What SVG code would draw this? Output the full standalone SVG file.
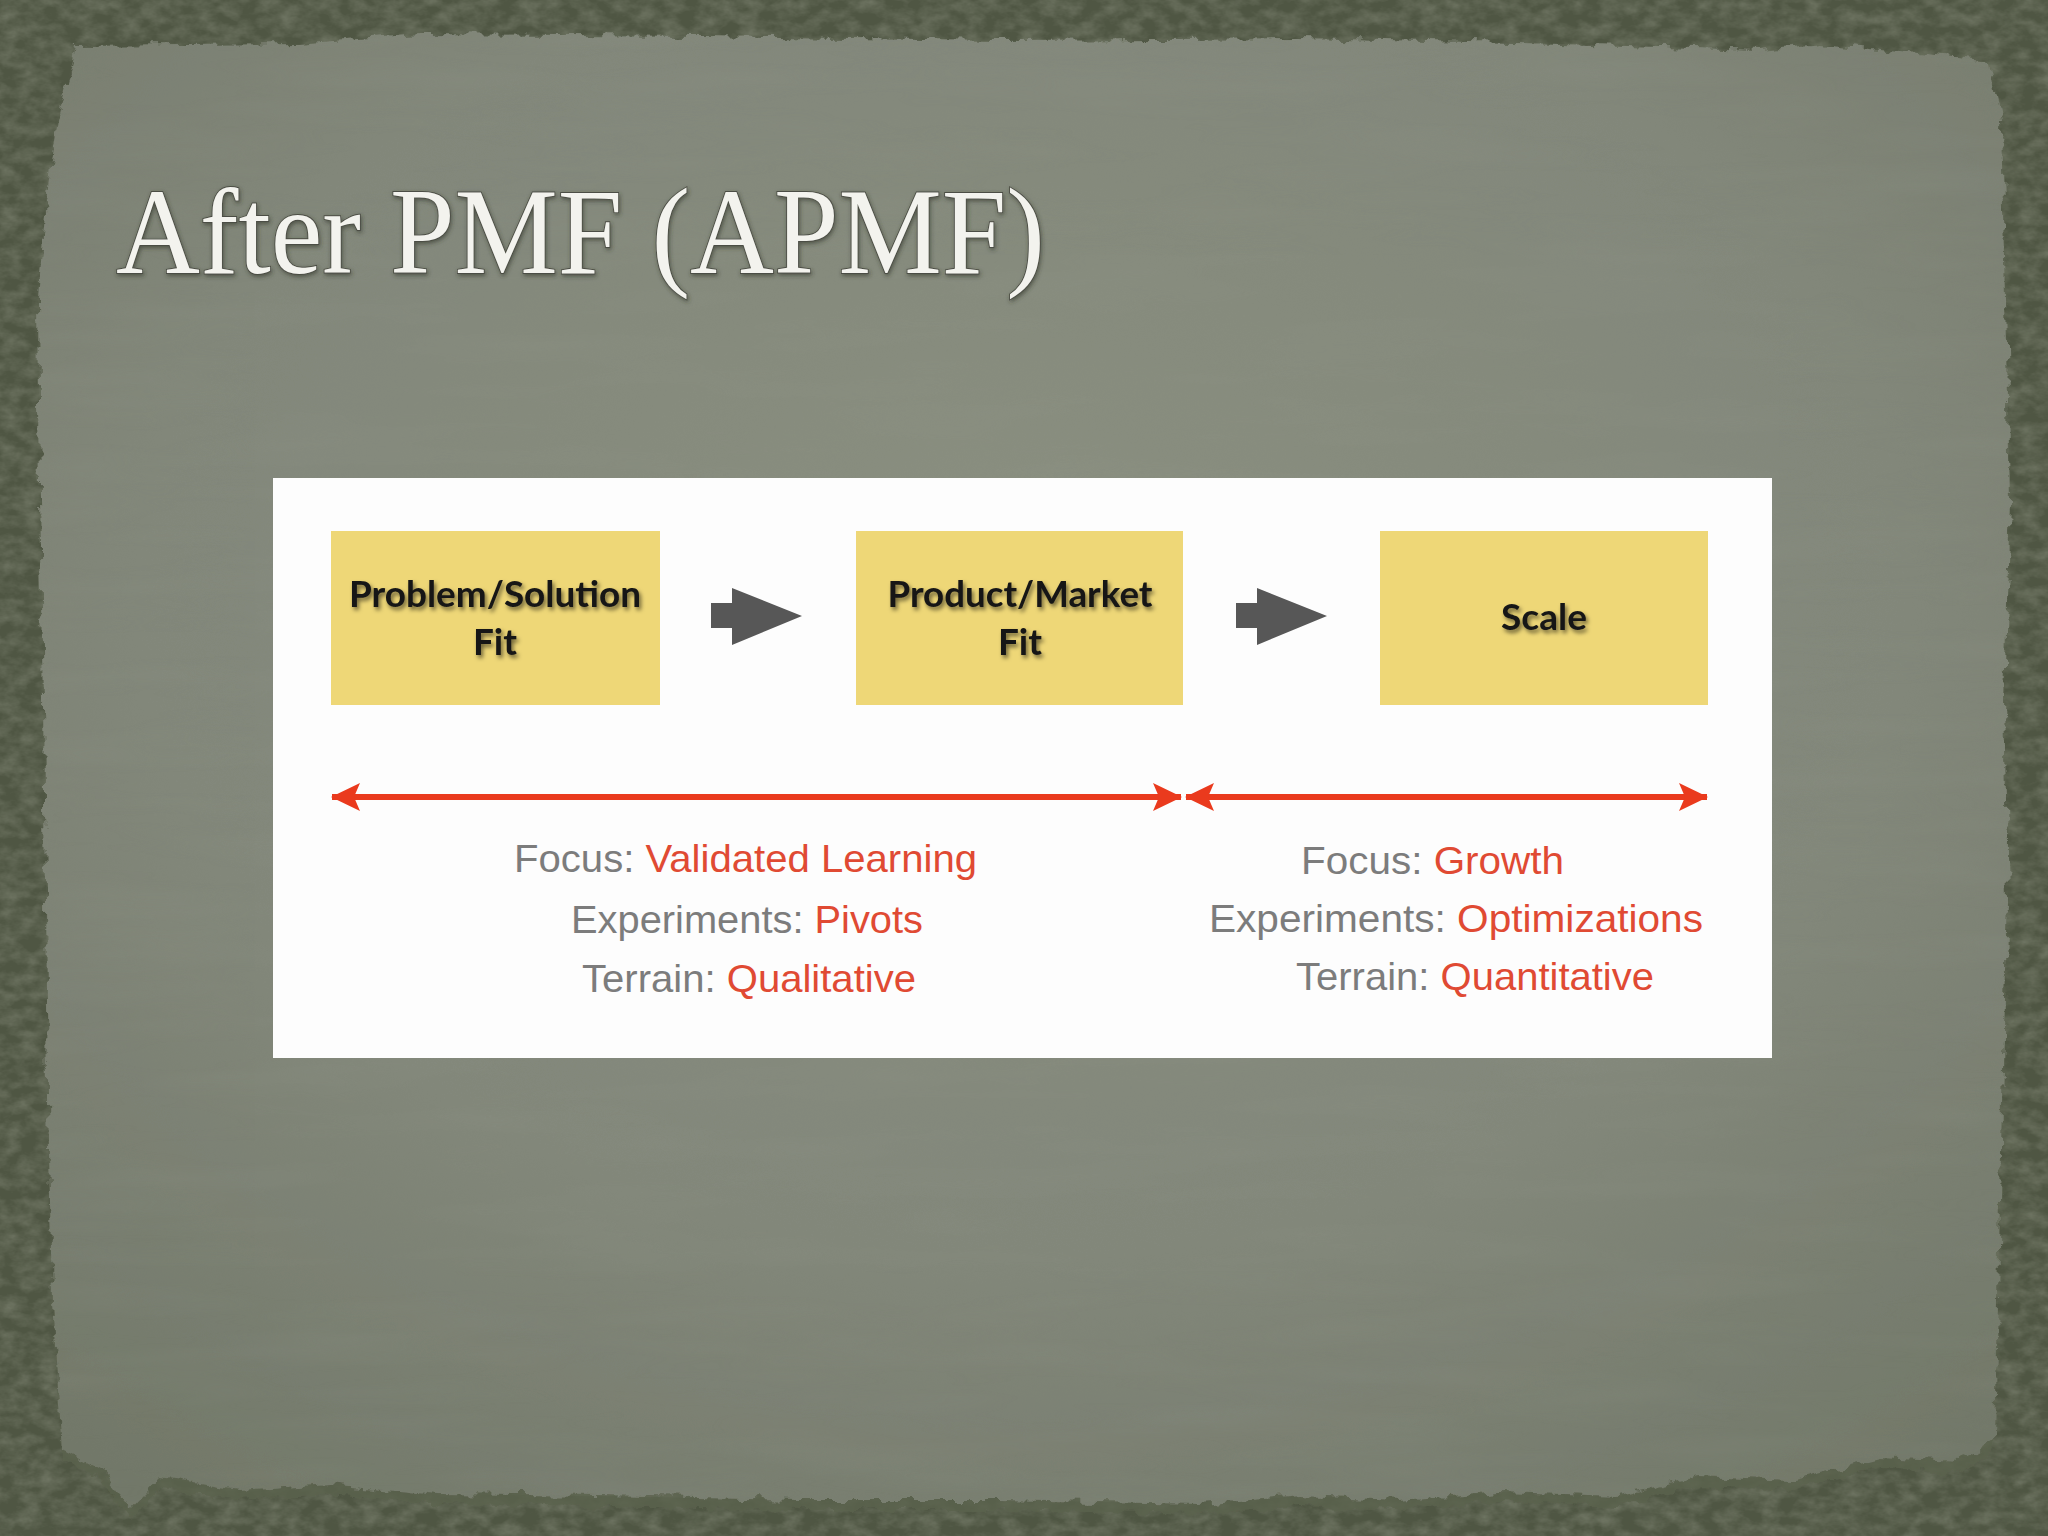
<svg xmlns="http://www.w3.org/2000/svg" width="2048" height="1536" viewBox="0 0 2048 1536">
  <defs>
    <style>
      .box { fill: #eed777; }
      .boxtxt { font-family: Lato, "Liberation Sans", sans-serif; font-weight: bold; font-size: 37px; fill: #161616; text-anchor: middle; }
      .lbl { font-family: "Liberation Sans", Arial, sans-serif; font-size: 39px; fill: #7c7c7c; }
      .red { fill: #e04a33; }
      .garrow { fill: #575757; }
      .rline { stroke: #ea3a1d; stroke-width: 6; fill: none; }
      .title { font-family: "Liberation Serif", "Times New Roman", serif; font-size: 122px; fill: #f3f3ee; stroke: #4b4d44; stroke-width: 1.8; paint-order: stroke; }
    </style>
    <radialGradient id="paperGrad" cx="0.5" cy="0.38" r="0.75">
      <stop offset="0" stop-color="#8a8f80"/>
      <stop offset="0.6" stop-color="#82877a"/>
      <stop offset="1" stop-color="#727869"/>
    </radialGradient>
    <filter id="ragged" x="-5%" y="-5%" width="110%" height="110%">
      <feTurbulence type="fractalNoise" baseFrequency="0.06" numOctaves="4" seed="7" result="n"/>
      <feDisplacementMap in="SourceGraphic" in2="n" scale="14" xChannelSelector="R" yChannelSelector="G"/>
    </filter>
    <filter id="mottle" x="0" y="0" width="100%" height="100%">
      <feTurbulence type="fractalNoise" baseFrequency="0.05 0.08" numOctaves="4" seed="3" result="n"/>
      <feColorMatrix in="n" type="matrix" values="0 0 0 0 0.2  0 0 0 0 0.22  0 0 0 0 0.16  0 0 0 1.2 -0.4"/>
    </filter>
    <filter id="grain" x="0" y="0" width="100%" height="100%">
      <feTurbulence type="fractalNoise" baseFrequency="0.004 0.03" numOctaves="3" seed="11" result="n"/>
      <feColorMatrix in="n" type="matrix" values="0 0 0 0 0.3  0 0 0 0 0.32  0 0 0 0 0.27  0 0 0 0.9 -0.35"/>
    </filter>
    <filter id="txtShadow" x="-10%" y="-30%" width="120%" height="160%">
      <feGaussianBlur in="SourceAlpha" stdDeviation="2.2"/>
      <feOffset dx="2" dy="3" result="b"/>
      <feFlood flood-color="#000" flood-opacity="0.55"/>
      <feComposite in2="b" operator="in" result="s"/>
      <feMerge><feMergeNode in="s"/><feMergeNode in="SourceGraphic"/></feMerge>
    </filter>
    <filter id="titleShadow" x="-5%" y="-20%" width="110%" height="140%">
      <feGaussianBlur in="SourceAlpha" stdDeviation="2"/>
      <feOffset dx="1" dy="2" result="b"/>
      <feFlood flood-color="#2f3328" flood-opacity="0.6"/>
      <feComposite in2="b" operator="in" result="s"/>
      <feMerge><feMergeNode in="s"/><feMergeNode in="SourceGraphic"/></feMerge>
    </filter>
    <clipPath id="paperClip">
      <path id="paperPath" d="M76,46 L300,44 L420,34 L700,36 L1000,40 L1300,38 L1560,44 L1760,50 L1820,44 L1900,52 L1990,62 L2002,120 L2006,300 L2010,500 L2004,700 L2008,900 L2002,1100 L1998,1300 L1995,1440 L1960,1462 L1880,1458 L1790,1480 L1700,1476 L1620,1496 L1500,1492 L1400,1500 L1300,1496 L1200,1504 L1000,1500 L800,1500 L600,1496 L440,1494 L330,1484 L240,1490 L160,1478 L130,1510 L100,1470 L62,1450 L52,1300 L48,1100 L46,900 L44,700 L40,500 L38,300 L46,200 L58,120 Z"/>
    </clipPath>
    <marker id="redHead" viewBox="0 0 30 30" refX="28" refY="15" markerWidth="30" markerHeight="30" markerUnits="userSpaceOnUse" orient="auto-start-reverse">
      <path d="M0,1 L29,15 L0,29 L6,15 Z" fill="#ea3a1d"/>
    </marker>
  </defs>

  <g id="background">
    <rect x="0" y="0" width="2048" height="1536" fill="#4f5643"/>
    <rect x="0" y="0" width="2048" height="1536" filter="url(#mottle)"/>
    <g filter="url(#ragged)">
      <use href="#paperPath" fill="#5b624e" opacity="0.8" transform="translate(0,10)"/>
      <use href="#paperPath" fill="url(#paperGrad)"/>
    </g>
    <g clip-path="url(#paperClip)" opacity="0.3">
      <rect x="0" y="0" width="2048" height="1536" filter="url(#grain)"/>
    </g>
  </g>

  <g id="title">
    <text class="title" x="116" y="273" textLength="929" lengthAdjust="spacingAndGlyphs" filter="url(#titleShadow)">After PMF (APMF)</text>
  </g>

  <g id="panel">
    <rect x="273" y="478" width="1499" height="580" fill="#fdfdfd"/>
  </g>

  <g id="node-problem-solution">
    <rect class="box" x="331" y="531" width="329" height="174"/>
    <g filter="url(#txtShadow)">
      <text class="boxtxt" x="495" y="607" textLength="292" lengthAdjust="spacingAndGlyphs">Problem/Solution</text>
      <text class="boxtxt" x="495" y="655">Fit</text>
    </g>
  </g>

  <g id="node-product-market">
    <rect class="box" x="856" y="531" width="327" height="174"/>
    <g filter="url(#txtShadow)">
      <text class="boxtxt" x="1020" y="607" textLength="265" lengthAdjust="spacingAndGlyphs">Product/Market</text>
      <text class="boxtxt" x="1020" y="655">Fit</text>
    </g>
  </g>

  <g id="node-scale">
    <rect class="box" x="1380" y="531" width="328" height="174"/>
    <g filter="url(#txtShadow)">
      <text class="boxtxt" x="1544" y="630">Scale</text>
    </g>
  </g>

  <g id="connectors">
    <path class="garrow" d="M711,603 H732 V588 L802,616 L732,645 V628 H711 Z"/>
    <path class="garrow" d="M1236,603 H1257 V588 L1327,616 L1257,645 V628 H1236 Z"/>
    <line class="rline" x1="332" y1="797" x2="1181" y2="797" marker-start="url(#redHead)" marker-end="url(#redHead)"/>
    <line class="rline" x1="1186" y1="797" x2="1707" y2="797" marker-start="url(#redHead)" marker-end="url(#redHead)"/>
  </g>

  <g id="label-left">
    <text class="lbl" x="514" y="872" textLength="463" lengthAdjust="spacingAndGlyphs">Focus: <tspan class="red">Validated Learning</tspan></text>
    <text class="lbl" x="571" y="933" textLength="352" lengthAdjust="spacingAndGlyphs">Experiments: <tspan class="red">Pivots</tspan></text>
    <text class="lbl" x="582" y="992" textLength="334" lengthAdjust="spacingAndGlyphs">Terrain: <tspan class="red">Qualitative</tspan></text>
  </g>

  <g id="label-right">
    <text class="lbl" x="1301" y="874" textLength="263" lengthAdjust="spacingAndGlyphs">Focus: <tspan class="red">Growth</tspan></text>
    <text class="lbl" x="1209" y="932" textLength="494" lengthAdjust="spacingAndGlyphs">Experiments: <tspan class="red">Optimizations</tspan></text>
    <text class="lbl" x="1296" y="990" textLength="358" lengthAdjust="spacingAndGlyphs">Terrain: <tspan class="red">Quantitative</tspan></text>
  </g>
</svg>
